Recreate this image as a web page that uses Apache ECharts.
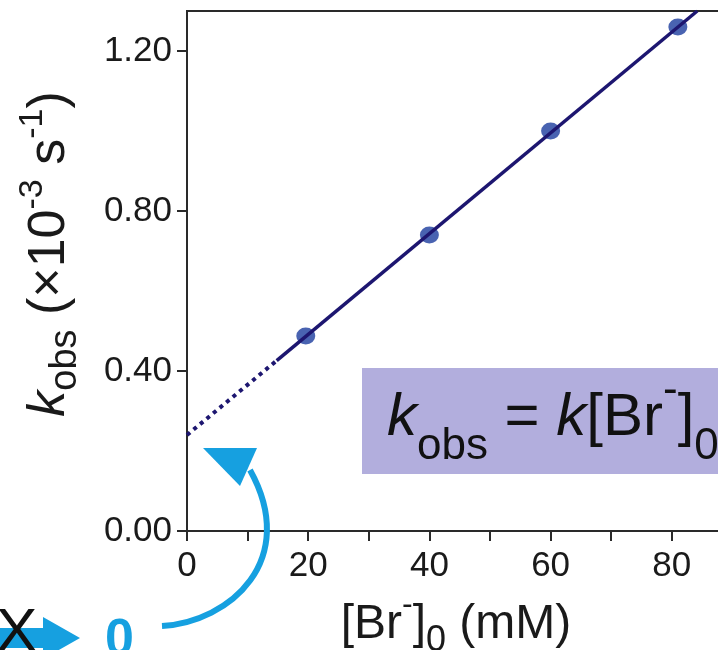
<!DOCTYPE html>
<html>
<head>
<meta charset="utf-8">
<script src="https://cdn.jsdelivr.net/npm/echarts@6/dist/echarts.min.js"></script>
<style>html,body{margin:0;padding:0;background:#fff;}#c{width:718px;height:650px;}</style>
</head>
<body>
<div id="c"></div>
<script>
// ---- data ----
const concMM = [19.6, 40, 60, 81];            // [Br-]0 (mM)
const kObs = [0.4875, 0.74, 1.0, 1.26];       // kobs (x10^-3 s^-1)
const fitSolidX = [14.8, 84.2];
const fitSolidY = [0.426, 1.30];
const fitDotX = [0, 14.8];
const fitDotY = [0.24, 0.426];
const yTickValues = [0, 0.4, 0.8, 1.2];
const xLabelValues = [0, 20, 40, 60, 80, 100];

const FONT = 'Liberation Sans';
const BLUE = '#16a0e0';
const NAVY = '#1d1670';

const pts = concMM.map((x, i) => [x, kObs[i]]);
const solid = fitSolidX.map((x, i) => [x, fitSolidY[i]]);
const dotted = fitDotX.map((x, i) => [x, fitDotY[i]]);

const chart = echarts.init(document.getElementById('c'), null, {renderer: 'canvas'});
chart.setOption({
  animation: false,
  backgroundColor: '#fff',
  grid: {left: 187, top: 11, right: -75, bottom: 119, show: true, borderColor: '#2a2a2a', borderWidth: 2, outerBoundsMode: 'none', containLabel: false},
  xAxis: {
    type: 'value', min: 0, max: 100, interval: 10,
    axisLine: {show: true, onZero: false, lineStyle: {color: '#2a2a2a', width: 2}},
    axisTick: {show: true, length: 10, lineStyle: {color: '#2a2a2a', width: 2}},
    splitLine: {show: false},
    axisLabel: {
      margin: 18, fontSize: 35, color: '#1a1a1a', fontFamily: FONT,
      formatter: v => (xLabelValues.indexOf(v) >= 0 ? String(v) : '')
    },
    name: '{n|[Br}{sup|-}{n|]}{sub|0}{n| (mM)}',
    nameLocation: 'middle', nameGap: 61,
    nameTextStyle: {
      padding: [0, 68, 0, 0],
      rich: {
        n: {fontSize: 48, lineHeight: 48, fontFamily: FONT, color: '#1a1a1a', verticalAlign: 'middle'},
        sup: {fontSize: 32, lineHeight: 32, fontFamily: FONT, color: '#1a1a1a', verticalAlign: 'middle', padding: [0, 0, 40, 0]},
        sub: {fontSize: 36, lineHeight: 36, fontFamily: FONT, color: '#1a1a1a', verticalAlign: 'middle', padding: [32, 0, 0, 0]}
      }
    }
  },
  yAxis: {
    type: 'value', min: 0, max: 1.3,
    axisLine: {show: true, onZero: false, lineStyle: {color: '#2a2a2a', width: 2}},
    axisTick: {show: true, length: 10, customValues: yTickValues, lineStyle: {color: '#2a2a2a', width: 2}},
    splitLine: {show: false},
    axisLabel: {
      margin: 15, fontSize: 35, color: '#1a1a1a', fontFamily: FONT,
      customValues: yTickValues,
      formatter: v => v.toFixed(2)
    },
    name: '{k|k}{sub|obs}{n| (×10}{sup|-3}{n| s}{sup|-1}{n|)}',
    nameLocation: 'middle', nameGap: 111,
    nameTextStyle: {
      padding: [0, 0, 0, 34],
      rich: {
        k: {fontSize: 52, lineHeight: 52, fontFamily: FONT, fontStyle: 'italic', color: '#1a1a1a', verticalAlign: 'middle'},
        n: {fontSize: 52, lineHeight: 52, fontFamily: FONT, color: '#1a1a1a', verticalAlign: 'middle'},
        sup: {fontSize: 34, lineHeight: 34, fontFamily: FONT, color: '#1a1a1a', verticalAlign: 'middle', padding: [0, 0, 35, 0]},
        sub: {fontSize: 38, lineHeight: 38, fontFamily: FONT, color: '#1a1a1a', verticalAlign: 'middle', padding: [32, 0, 0, 0]}
      }
    }
  },
  series: [
    {type: 'scatter', data: pts, symbol: 'circle', symbolSize: [19, 17], itemStyle: {color: '#3552a8', opacity: 0.9}, z: 2},
    {type: 'line', data: solid, showSymbol: false, lineStyle: {color: NAVY, width: 3.5}, z: 3},
    {type: 'line', data: dotted, showSymbol: false, lineStyle: {color: NAVY, width: 4, type: [4, 4.5], cap: 'butt'}, z: 3}
  ],
  graphic: [
    {type: 'rect', shape: {x: 362, y: 368, width: 420, height: 106}, style: {fill: '#b2aedd'}, z: 10},
    {type: 'text', x: 387, y: 418, z: 11, style: {
      text: '{k|k}{sub|obs}{n| = }{k|k}{n|[Br}{sup|-}{n|]}{sub|0}',
      verticalAlign: 'middle', align: 'left',
      rich: {
        k: {fontSize: 60, lineHeight: 60, fontFamily: FONT, fontStyle: 'italic', fill: '#111', verticalAlign: 'middle'},
        n: {fontSize: 60, lineHeight: 60, fontFamily: FONT, fill: '#111', verticalAlign: 'middle'},
        sup: {fontSize: 44, lineHeight: 44, fontFamily: FONT, fill: '#111', verticalAlign: 'middle', padding: [0, 0, 54, 0]},
        sub: {fontSize: 44, lineHeight: 44, fontFamily: FONT, fill: '#111', verticalAlign: 'middle', padding: [57, 0, 0, 0]}
      }
    }},
    {type: 'bezierCurve', z: 12, shape: {x1: 162, y1: 626, cpx1: 230, cpy1: 622, cpx2: 300, cpy2: 560, x2: 250, y2: 470},
      style: {stroke: BLUE, lineWidth: 6, fill: null}},
    {type: 'polygon', z: 12, shape: {points: [[203, 448], [257, 448], [240, 486]]}, style: {fill: BLUE}},
    {type: 'polygon', z: 12, shape: {points: [[-5, 628], [43, 628], [43, 617], [80, 638], [43, 659], [43, 648], [-5, 648]]}, style: {fill: BLUE}},
    {type: 'text', z: 13, x: -4, y: 603, style: {text: 'X', font: '62px "Liberation Sans"', fill: '#111', verticalAlign: 'top'}},
    {type: 'text', z: 13, x: 105, y: 615, style: {text: '0', font: 'bold 52px "Liberation Sans"', fill: BLUE, verticalAlign: 'top'}}
  ]
});
</script>
</body>
</html>
